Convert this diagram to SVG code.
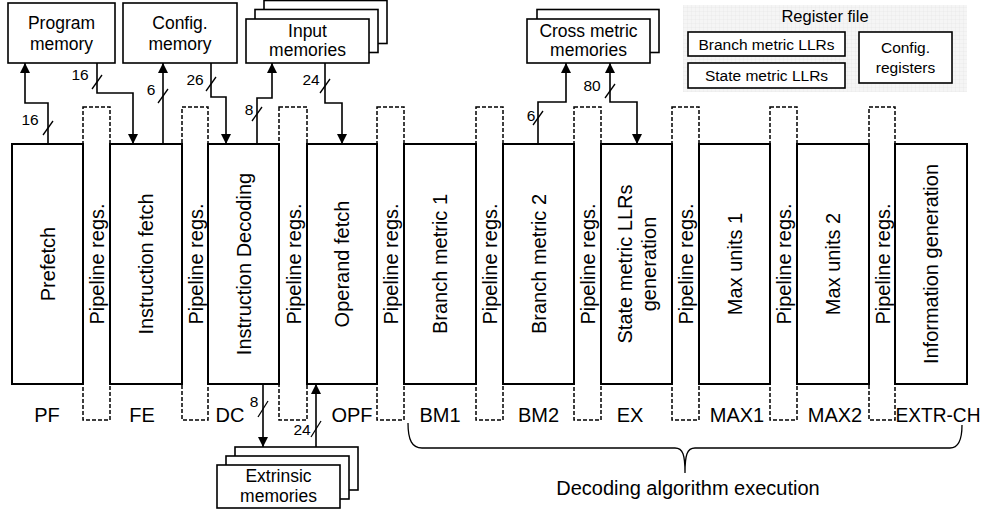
<svg xmlns="http://www.w3.org/2000/svg" width="984" height="513" viewBox="0 0 984 513">
<defs>
<style>
text{font-family:"Liberation Sans",Arial,sans-serif;fill:#000}
.stage{fill:#fff;stroke:#000;stroke-width:2}
.pipe{fill:none;stroke:#000;stroke-width:1.5;stroke-dasharray:4 2}
.box{fill:#fff;stroke:#000;stroke-width:1.6}
.rt{font-size:20px;text-anchor:middle}
.lbl{font-size:20px;text-anchor:middle}
.bt{font-size:17.5px;text-anchor:middle}
.rf{font-size:15.5px;text-anchor:middle}
.num{font-size:15.5px;text-anchor:middle}
.wire{fill:none;stroke:#000;stroke-width:1.6}
.sl{stroke:#000;stroke-width:1.3}
</style>
<marker id="ah" viewBox="0 0 10 10" refX="10" refY="5" markerWidth="10" markerHeight="10" markerUnits="userSpaceOnUse" orient="auto-start-reverse">
<path d="M0,0 L10,5 L0,10 z" fill="#000"/>
</marker>
<pattern id="grid" width="4" height="4" patternUnits="userSpaceOnUse">
<rect width="4" height="4" fill="#f5f5f5"/>
<path d="M4,0 V4 M0,4 H4" stroke="#e4e4e4" stroke-width="0.6" fill="none"/>
</pattern>
</defs>

<g id="register-file">
<rect x="683" y="5" width="284" height="87" fill="url(#grid)"/>
<text x="825" y="22" style="font-size:16.5px;text-anchor:middle">Register file</text>
<rect x="688" y="32" width="157" height="24" class="box"/>
<text x="766.5" y="50" class="rf">Branch metric LLRs</text>
<rect x="688" y="63" width="157" height="25" class="box"/>
<text x="766.5" y="81" class="rf">State metric LLRs</text>
<rect x="859" y="32" width="93" height="51" class="box"/>
<text x="905.5" y="53" class="rf">Config.</text>
<text x="905.5" y="73" class="rf">registers</text>
</g>

<g id="program-memory">
<rect x="8" y="3" width="107" height="60" class="box"/>
<text x="61.5" y="29" class="bt">Program</text>
<text x="61.5" y="50" class="bt">memory</text>
</g>
<g id="config-memory">
<rect x="123" y="3" width="114" height="60" class="box"/>
<text x="180" y="29" class="bt">Config.</text>
<text x="180" y="50" class="bt">memory</text>
</g>
<g id="input-memories">
<rect x="264" y="0.5" width="123" height="43" class="box"/>
<rect x="255" y="9.5" width="123" height="43" class="box"/>
<rect x="246" y="19" width="123" height="44" class="box"/>
<text x="307.5" y="37" class="bt">Input</text>
<text x="307.5" y="56" class="bt">memories</text>
</g>
<g id="cross-metric-memories">
<rect x="537" y="9.5" width="122" height="43" class="box"/>
<rect x="527" y="19" width="123" height="44" class="box"/>
<text x="588.5" y="37" class="bt">Cross metric</text>
<text x="588.5" y="56" class="bt">memories</text>
</g>
<g id="extrinsic-memories">
<rect x="235" y="447" width="123" height="43" class="box"/>
<rect x="226" y="456" width="123" height="43" class="box"/>
<rect x="217" y="465" width="123" height="43" class="box"/>
<text x="278.5" y="482" class="bt">Extrinsic</text>
<text x="278.5" y="502" class="bt">memories</text>
</g>

<g id="stage-pf"><rect x="12" y="144" width="71" height="240" class="stage"/><text class="rt" dy="0.35em" transform="translate(47.5,264) rotate(-90)">Prefetch</text></g>
<g id="stage-fe"><rect x="110" y="144" width="72" height="240" class="stage"/><text class="rt" dy="0.35em" transform="translate(146,264) rotate(-90)">Instruction fetch</text></g>
<g id="stage-dc"><rect x="208" y="144" width="71" height="240" class="stage"/><text class="rt" dy="0.35em" transform="translate(243.5,264) rotate(-90)">Instruction Decoding</text></g>
<g id="stage-opf"><rect x="307" y="144" width="70" height="240" class="stage"/><text class="rt" dy="0.35em" transform="translate(342,264) rotate(-90)">Operand fetch</text></g>
<g id="stage-bm1"><rect x="404" y="144" width="72" height="240" class="stage"/><text class="rt" dy="0.35em" transform="translate(440,264) rotate(-90)">Branch metric 1</text></g>
<g id="stage-bm2"><rect x="503" y="144" width="71" height="240" class="stage"/><text class="rt" dy="0.35em" transform="translate(538.5,264) rotate(-90)">Branch metric 2</text></g>
<g id="stage-ex"><rect x="601" y="144" width="71" height="240" class="stage"/><text class="rt" dy="0.35em" transform="translate(625,264) rotate(-90)">State metric LLRs</text><text class="rt" dy="0.35em" transform="translate(649,264) rotate(-90)">generation</text></g>
<g id="stage-max1"><rect x="699" y="144" width="71" height="240" class="stage"/><text class="rt" dy="0.35em" transform="translate(734.5,264) rotate(-90)">Max units 1</text></g>
<g id="stage-max2"><rect x="797" y="144" width="72" height="240" class="stage"/><text class="rt" dy="0.35em" transform="translate(833,264) rotate(-90)">Max units 2</text></g>
<g id="stage-extr"><rect x="895" y="144" width="72" height="240" class="stage"/><text class="rt" dy="0.35em" transform="translate(931,264) rotate(-90)">Information generation</text></g>

<g id="pipe-1"><rect x="83" y="107" width="27" height="313" class="pipe"/><text class="rt" dy="0.35em" transform="translate(97,264) rotate(-90)">Pipeline regs.</text></g>
<g id="pipe-2"><rect x="182" y="107" width="26" height="313" class="pipe"/><text class="rt" dy="0.35em" transform="translate(195.5,264) rotate(-90)">Pipeline regs.</text></g>
<g id="pipe-3"><rect x="279" y="107" width="28" height="313" class="pipe"/><text class="rt" dy="0.35em" transform="translate(293.5,264) rotate(-90)">Pipeline regs.</text></g>
<g id="pipe-4"><rect x="377" y="107" width="27" height="313" class="pipe"/><text class="rt" dy="0.35em" transform="translate(391,264) rotate(-90)">Pipeline regs.</text></g>
<g id="pipe-5"><rect x="476" y="107" width="27" height="313" class="pipe"/><text class="rt" dy="0.35em" transform="translate(490,264) rotate(-90)">Pipeline regs.</text></g>
<g id="pipe-6"><rect x="574" y="107" width="27" height="313" class="pipe"/><text class="rt" dy="0.35em" transform="translate(588,264) rotate(-90)">Pipeline regs.</text></g>
<g id="pipe-7"><rect x="672" y="107" width="27" height="313" class="pipe"/><text class="rt" dy="0.35em" transform="translate(686,264) rotate(-90)">Pipeline regs.</text></g>
<g id="pipe-8"><rect x="770" y="107" width="27" height="313" class="pipe"/><text class="rt" dy="0.35em" transform="translate(784,264) rotate(-90)">Pipeline regs.</text></g>
<g id="pipe-9"><rect x="869" y="107" width="26" height="313" class="pipe"/><text class="rt" dy="0.35em" transform="translate(882.5,264) rotate(-90)">Pipeline regs.</text></g>

<g id="stage-labels">
<text x="47" y="422" class="lbl">PF</text>
<text x="142" y="422" class="lbl">FE</text>
<text x="230" y="422" class="lbl">DC</text>
<text x="352" y="422" class="lbl">OPF</text>
<text x="440" y="422" class="lbl">BM1</text>
<text x="538.5" y="422" class="lbl">BM2</text>
<text x="630" y="422" class="lbl">EX</text>
<text x="737" y="422" class="lbl">MAX1</text>
<text x="835" y="422" class="lbl">MAX2</text>
<text x="938" y="422" class="lbl" textLength="85" lengthAdjust="spacingAndGlyphs">EXTR-CH</text>
</g>

<g id="connectors">
<path d="M48,144 V103 H25 V63" class="wire" marker-end="url(#ah)"/>
<line x1="43" y1="135" x2="53" y2="121" class="sl"/>
<text x="30" y="125" class="num">16</text>

<path d="M97,63 V93 H133 V144" class="wire" marker-end="url(#ah)"/>
<line x1="92" y1="89" x2="102" y2="75" class="sl"/>
<text x="80" y="80" class="num">16</text>

<path d="M163,144 V63" class="wire" marker-end="url(#ah)"/>
<line x1="158" y1="103" x2="168" y2="89" class="sl"/>
<text x="151" y="95" class="num">6</text>

<path d="M211,63 V97 H226 V144" class="wire" marker-end="url(#ah)"/>
<line x1="206" y1="91" x2="216" y2="77" class="sl"/>
<text x="195" y="85" class="num">26</text>

<path d="M257,144 V98 H272 V63" class="wire" marker-end="url(#ah)"/>
<line x1="252" y1="121" x2="262" y2="107" class="sl"/>
<text x="249" y="115" class="num">8</text>

<path d="M325,63 V103 H342 V144" class="wire" marker-end="url(#ah)"/>
<line x1="320" y1="93" x2="330" y2="79" class="sl"/>
<text x="311" y="85" class="num">24</text>

<path d="M538,144 V102 H566 V63" class="wire" marker-end="url(#ah)"/>
<line x1="533" y1="125" x2="543" y2="111" class="sl"/>
<text x="531" y="121" class="num">6</text>

<path d="M637,144 V102 H610 V63" class="wire" marker-start="url(#ah)" marker-end="url(#ah)"/>
<line x1="605" y1="98" x2="615" y2="84" class="sl"/>
<text x="592" y="91" class="num">80</text>

<path d="M263,384 V447" class="wire" marker-end="url(#ah)"/>
<line x1="258" y1="417" x2="268" y2="401" class="sl"/>
<text x="254" y="407" class="num">8</text>

<path d="M316,447 V384" class="wire" marker-end="url(#ah)"/>
<line x1="311" y1="437" x2="321" y2="421" class="sl"/>
<text x="302" y="435" class="num">24</text>
</g>

<g id="brace">
<path d="M408,423 C408,440 412,448 422,448 L675,448 C683,448 685,455 685,473 C685,455 687,448 695,448 L950,448 C958,448 962,440 962,425" fill="none" stroke="#000" stroke-width="1.3"/>
<text x="688" y="495" class="lbl">Decoding algorithm execution</text>
</g>
</svg>
